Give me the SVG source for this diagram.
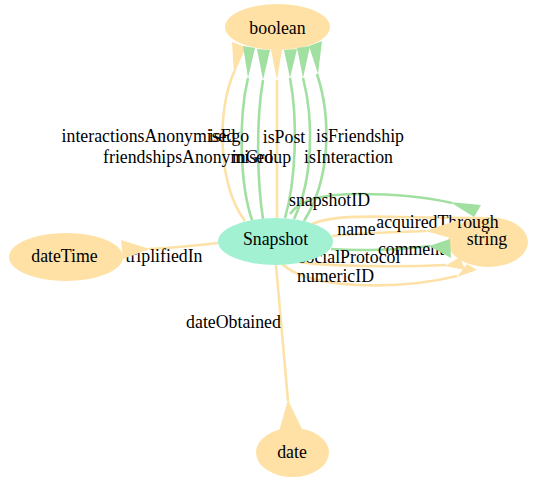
<svg xmlns="http://www.w3.org/2000/svg" width="534" height="482" viewBox="0 0 534 482">
<style>
.o{fill:none;stroke:#fee1a6;stroke-width:2.6}
.g{fill:none;stroke:#a1e0a1;stroke-width:2.6}
.oa{fill:#fee1a6;stroke:none}
.ga{fill:#a1e0a1;stroke:none}
.dt{fill:#ffe1a6}
.cls{fill:#a2f1d3}
text{font-family:"Liberation Serif","Times New Roman",serif;font-size:17.8px;fill:#000;text-anchor:middle}
</style>
<rect width="534" height="482" fill="#fff"/>
<g id="connectors">
  <g id="edge-lines">
    <path class="o" d="M245,221 C218,185 216,110 235,70"/>
    <path class="g" d="M252,220 C240,185 238,120 248,78"/>
    <path class="g" d="M263,219 C257,180 256,120 263,80"/>
    <path class="o" d="M277,218 L277,80"/>
    <path class="g" d="M285,218 C296,180 298,120 290,78"/>
    <path class="g" d="M294,219 C313,180 314,120 303,78"/>
    <path class="g" d="M304,221 C330,180 332,120 317,74"/>
    <path class="g" d="M290,214 C300,200 320,194 360,194 C400,194 430,198 452,203"/>
    <path class="o" d="M312,224 C330,216 360,216 400,217 C440,218 465,218 482,218"/>
    <path class="o" d="M332,236 C360,233 400,232 426,231"/>
    <path class="g" d="M331,249 C360,251 400,250 430,246"/>
    <path class="o" d="M292,260 C310,267 400,267 446,265"/>
    <path class="o" d="M282,264 C310,290 400,290 457,276"/>
    <path class="o" d="M218,243 C190,246 170,248 149,249"/>
    <path class="o" d="M276,265 L288,401"/>
  </g>
  <g id="edge-labels">
    <text x="148.5" y="142">interactionsAnonymised</text>
    <text x="229" y="142">isEgo</text>
    <text x="284" y="143">isPost</text>
    <text x="360" y="142">isFriendship</text>
    <text x="188" y="163">friendshipsAnonymised</text>
    <text x="261.5" y="163">inGroup</text>
    <text x="348.5" y="163">isInteraction</text>
    <text x="329.5" y="206">snapshotID</text>
    <text x="356.5" y="235">name</text>
    <text x="411" y="255">comment</text>
    <text x="349.5" y="263">socialProtocol</text>
    <text x="335.5" y="282">numericID</text>
    <text x="164" y="262">triplifiedIn</text>
    <text x="233.5" y="328">dateObtained</text>
  </g>
</g>
<g id="node-boolean"><ellipse class="dt" cx="277.5" cy="27" rx="52.5" ry="23"/><text x="277.5" y="34">boolean</text></g>
<g id="node-Snapshot"><ellipse class="cls" cx="275.5" cy="241.5" rx="57.5" ry="23.5"/><text x="275.5" y="245">Snapshot</text></g>
<g id="node-string"><ellipse class="dt" cx="488" cy="242" rx="40" ry="25"/><text x="487" y="245">string</text></g>
<g id="node-dateTime"><ellipse class="dt" cx="66" cy="257" rx="57" ry="24"/><text x="64.5" y="262">dateTime</text></g>
<g id="node-date"><ellipse class="dt" cx="292.5" cy="452.5" rx="36.5" ry="24.5"/><text x="292" y="458">date</text></g>
<g id="connector-overlay">
  <text x="437.5" y="228">acquiredThrough</text>
  <g id="arrowheads">
    <polygon class="oa" points="232,42 246,47 234,74"/>
    <polygon class="ga" points="243,46 255,48 248,78"/>
    <polygon class="ga" points="257,49 270,50 263,80"/>
    <polygon class="oa" points="271,50 282,50 277,80"/>
    <polygon class="ga" points="284,50 297,49 290,78"/>
    <polygon class="ga" points="297,48 310,46 303,78"/>
    <polygon class="ga" points="309,46 322,41 318,74"/>
    <polygon class="ga" points="450,202 481,205 474,217"/>
    <polygon class="oa" points="425,231 458,220 458,240"/>
    <polygon class="ga" points="429,246 450,239 451,258"/>
    <polygon class="oa" points="445,266 460,257 465,270"/>
    <polygon class="oa" points="457,277 467,264 477,270"/>
    <polygon class="oa" points="121,240 123,259 150,249"/>
    <polygon class="oa" points="279,431 302,429 288,400"/>
  </g>
</g>
</svg>
